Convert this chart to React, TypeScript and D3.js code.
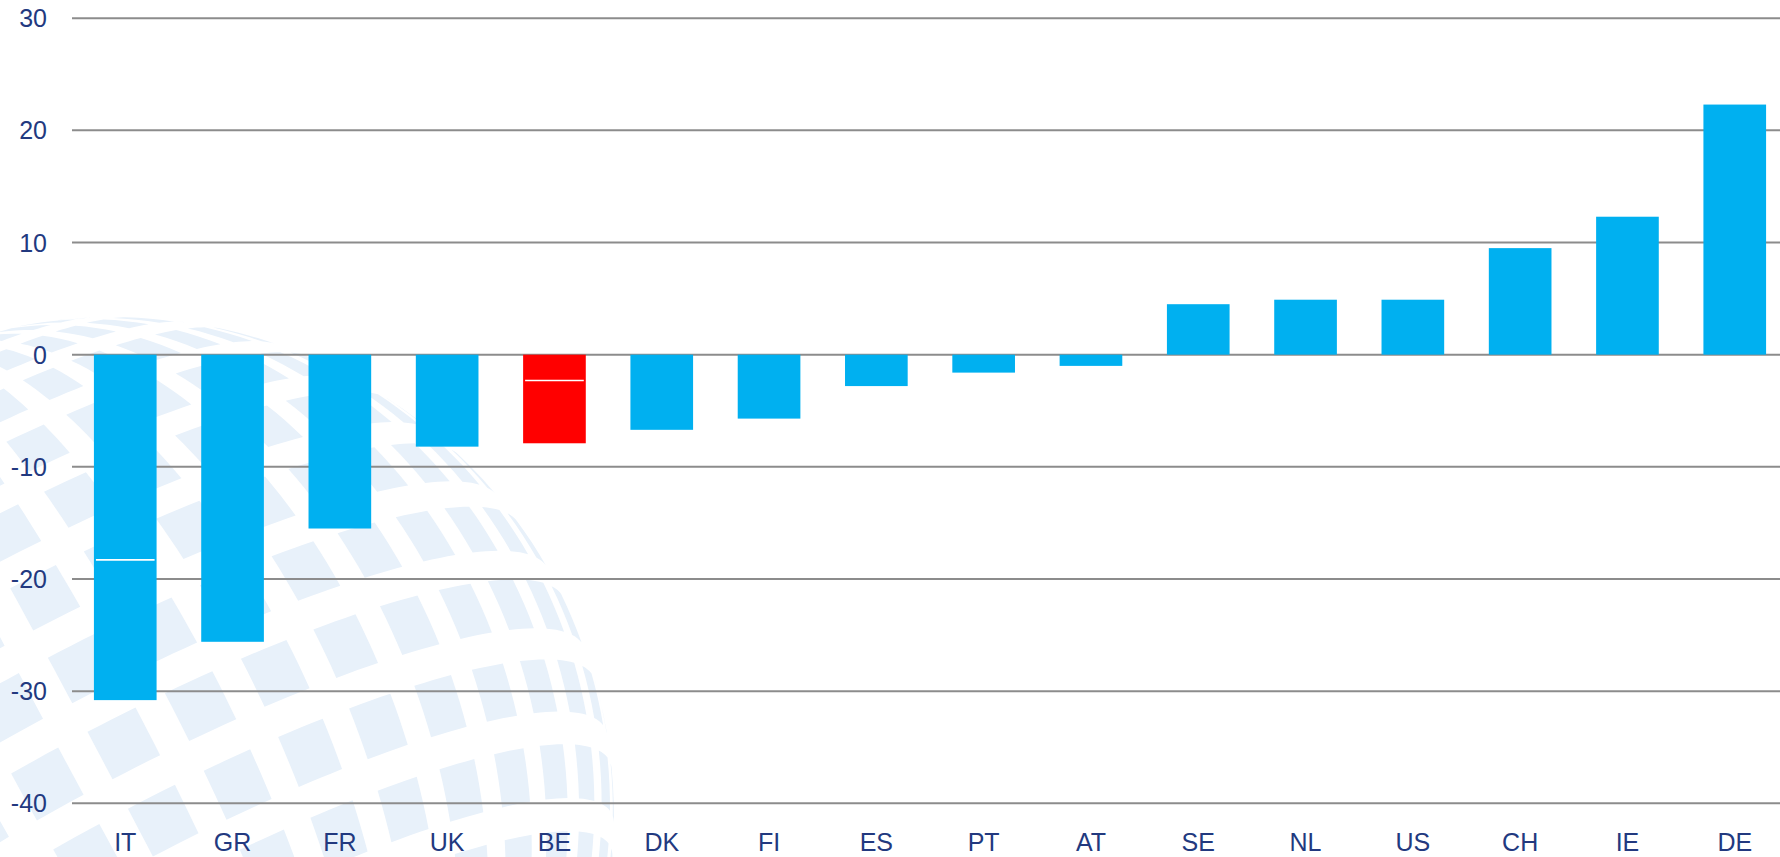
import React from "react";
import * as d3 from "d3";

const countries = ["IT", "GR", "FR", "UK", "BE", "DK", "FI", "ES", "PT", "AT", "SE", "NL", "US", "CH", "IE", "DE"];
const values = [-30.8, -25.6, -15.5, -8.2, -7.9, -6.7, -5.7, -2.8, -1.6, -1.0, 4.5, 4.9, 4.9, 9.5, 12.3, 22.3];
const markers: (number | null)[] = [-18.3, null, null, null, -2.3, null, null, null, null, null, null, null, null, null, null, null];
const highlight = ["BE"];
const yTicks = [30, 20, 10, 0, -10, -20, -30, -40];

const W = 1780;
const H = 857;
const FONT = "'Liberation Sans', Arial, sans-serif";
const TEXT = "#22397F";
const GRID = "#8C8C8C";
const BLUE = "#00B0F0";
const RED = "#FF0000";
const TILE = "#E8F1FA";

function buildTiles(): string[] {
  const proj = d3
    .geoOrthographic()
    .scale(500)
    .translate([114, 817])
    .rotate([0, 12, 28])
    .clipAngle(90);
  const path = d3.geoPath(proj);
  const step = 10;
  const gap = 1.9;
  const out: string[] = [];
  for (let lon = -180; lon < 180; lon += step) {
    for (let lat = -80; lat < 80; lat += step) {
      const x0 = lon + gap, x1 = lon + step - gap;
      const y0 = lat + gap, y1 = lat + step - gap;
      const ring: [number, number][] = [];
      const n = 4;
      for (let i = 0; i <= n; i++) ring.push([x0, y0 + ((y1 - y0) * i) / n]);
      for (let i = 1; i <= n; i++) ring.push([x0 + ((x1 - x0) * i) / n, y1]);
      for (let i = 1; i <= n; i++) ring.push([x1, y1 - ((y1 - y0) * i) / n]);
      for (let i = 1; i <= n; i++) ring.push([x1 - ((x1 - x0) * i) / n, y0]);
      let feat: any = { type: "Feature", properties: {}, geometry: { type: "Polygon", coordinates: [ring] } };
      if (d3.geoArea(feat) > 2 * Math.PI) {
        feat = { type: "Feature", properties: {}, geometry: { type: "Polygon", coordinates: [ring.slice().reverse()] } };
      }
      const d = path(feat);
      if (d) out.push(d);
    }
  }
  return out;
}

export default function App() {
  const x = d3
    .scaleBand<string>()
    .domain(countries)
    .range([71.6, 1788.4])
    .paddingInner(0.416)
    .paddingOuter(0.208);
  const y = d3.scaleLinear().domain([-40, 30]).range([803.3, 18.2]);
  const tiles = React.useMemo(buildTiles, []);
  const bw = x.bandwidth();

  return (
    <svg
      width={W}
      height={H}
      viewBox={`0 0 ${W} ${H}`}
      style={{ position: "absolute", left: 0, top: 0, background: "#fff" }}
    >
      <rect x={0} y={0} width={W} height={H} fill="#ffffff" />
      <g>
        {tiles.map((d, i) => (
          <path key={i} d={d} fill={TILE} />
        ))}
      </g>
      <g>
        {yTicks.map((t) => (
          <line key={t} x1={72} x2={W} y1={y(t)} y2={y(t)} stroke={GRID} strokeWidth={2} />
        ))}
      </g>
      <g>
        {yTicks.map((t) => (
          <text
            key={t}
            x={47}
            y={y(t)}
            dy="0.36em"
            textAnchor="end"
            fontFamily={FONT}
            fontSize={25}
            fill={TEXT}
          >
            {t}
          </text>
        ))}
      </g>
      <g>
        {countries.map((c, i) => {
          const v = values[i];
          const y0 = y(Math.max(0, v));
          const y1 = y(Math.min(0, v));
          return (
            <rect
              key={c}
              x={x(c)}
              y={y0}
              width={bw}
              height={y1 - y0}
              fill={highlight.includes(c) ? RED : BLUE}
            />
          );
        })}
      </g>
      <g>
        {countries.map((c, i) => {
          const m = markers[i];
          if (m === null) return null;
          const bx = x(c) as number;
          return (
            <line key={c} x1={bx + 2} x2={bx + bw - 2} y1={y(m)} y2={y(m)} stroke="#ffffff" strokeWidth={1.6} />
          );
        })}
      </g>
      <g>
        {countries.map((c) => (
          <text
            key={c}
            x={(x(c) as number) + bw / 2}
            y={851}
            textAnchor="middle"
            fontFamily={FONT}
            fontSize={25}
            fill={TEXT}
          >
            {c}
          </text>
        ))}
      </g>
    </svg>
  );
}
